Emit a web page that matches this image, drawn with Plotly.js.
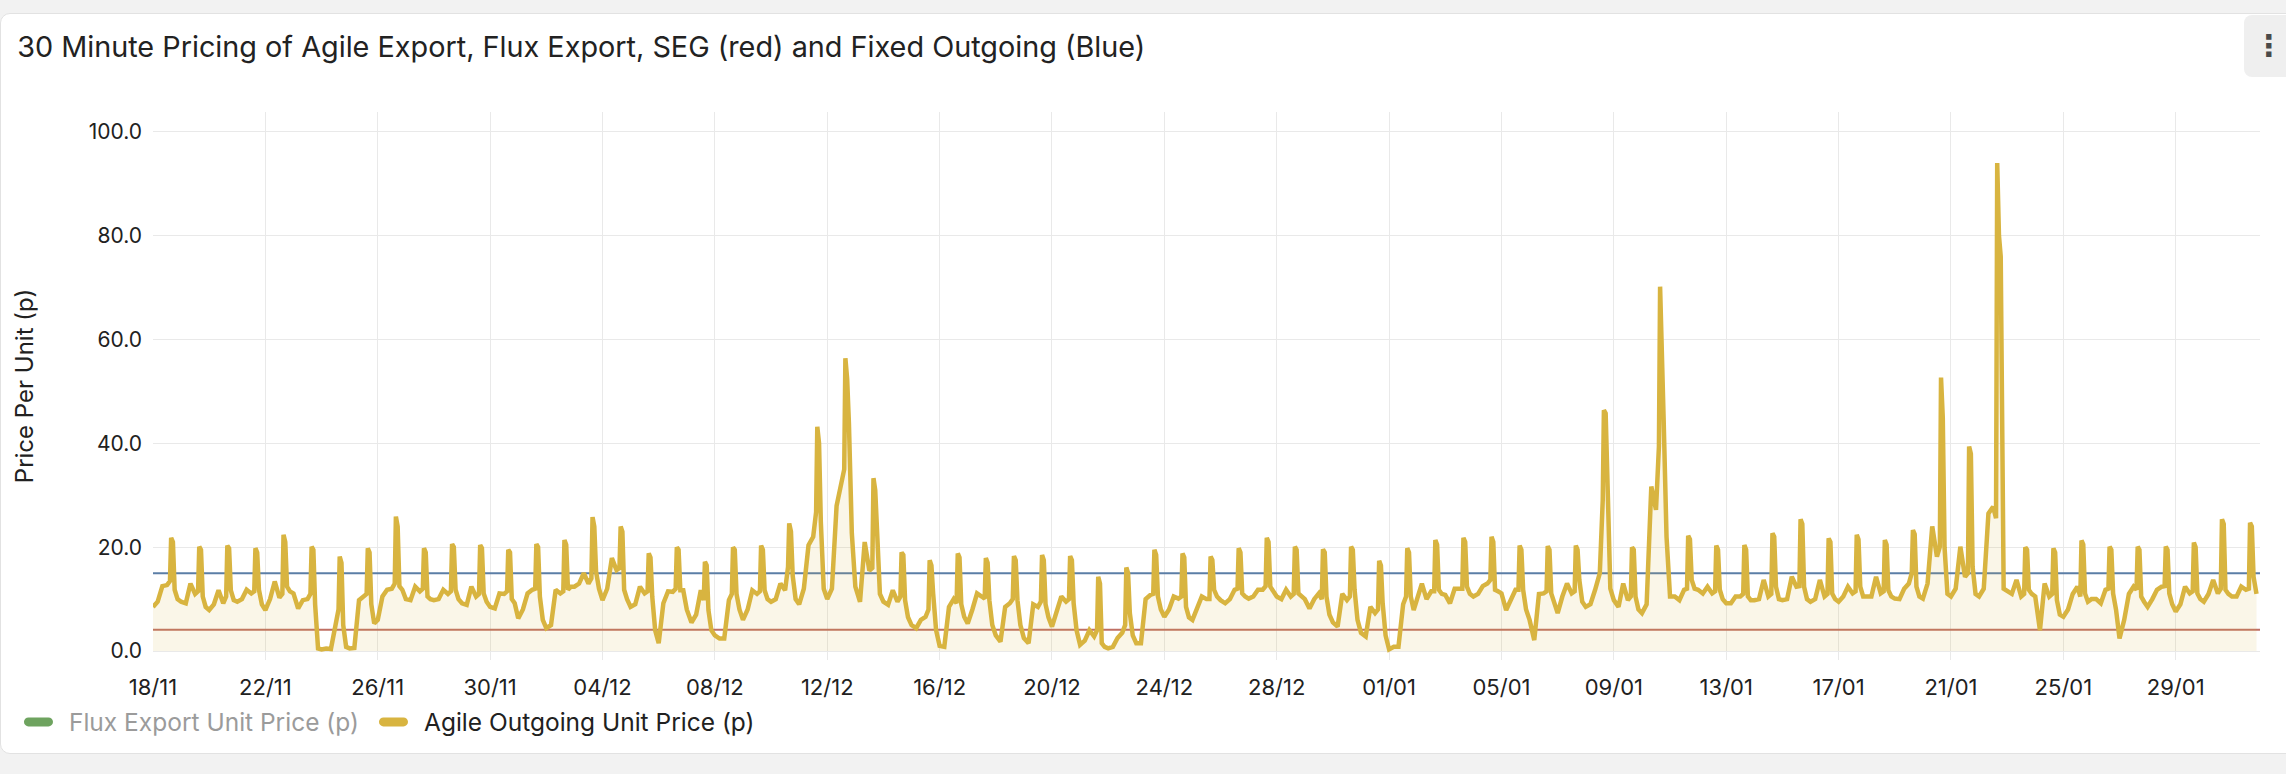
<!DOCTYPE html>
<html>
<head>
<meta charset="utf-8">
<script src="https://cdn.plot.ly/plotly-3.0.1.min.js"></script>
<style>
  html, body { margin: 0; padding: 0; background: #f2f2f2; width: 2286px; height: 774px; overflow: hidden; }
  #card { position: absolute; left: 0; top: 13px; width: 2300px; height: 741px; background: #fff;
          border: 1px solid #e2e2e2; border-radius: 10px; box-sizing: border-box; }
  #menu { position: absolute; left: 2244px; top: 15px; width: 60px; height: 62px; background: #efefef;
          border-radius: 8px; color: #4a4a4a; font: bold 30px "DejaVu Sans", sans-serif;
          line-height: 62px; text-indent: 10px; }
  #chart { position: absolute; left: 0; top: 0; width: 2286px; height: 774px; }
</style>
</head>
<body>
<div id="card"></div>
<div id="menu">⋮</div>
<div id="chart"></div>
<script>
// half-hourly Agile Outgoing prices, sampled at a few times of day (p/kWh)
// one entry per day, 18/11 .. 31/01
var startDay = '2024-11-18';
var slotHours = [0, 4, 8, 12, 14.5, 15.5, 17, 18.5, 21];

var at0000 = [8.5, 9.5, 7.9, 9.5, 7.9, 11.1, 0.3, 0.5, 6, 10,
  9.8, 9.2, 8.5, 6.3, 4.4, 12.4, 9.8, 8.5, 1.5, 8,
  3, 6, 9.5, 9, 10, 12.4, 9.5, 5, 1, 5.3,
  3, 2.5, 4.7, 1.2, 0.5, 1.5, 6.6, 6, 9.8, 10.1,
  10.5, 10, 5.5, 3.5, 0.3, 10, 10.8, 10.5, 11.1, 6,
  7.3, 8.5, 9.8, 7.3, 10.5, 11.8, 9.2, 9.8, 9.8, 9.5,
  9.5, 10.5, 10.1, 10.1, 10.5, 10.5, 11.5, 10.5, 6.6, 10,
  2.4, 8.5, 7.6, 9.5, 10.5];
var at0400 = [9.5, 9.2, 9, 10, 10, 8.2, 0.5, 0.6, 10.5, 9.8,
  10, 8.9, 8.2, 8, 5, 13, 12, 9, 9.2, 5.5,
  2.4, 8, 10, 12, 12, 9.5, 8.9, 4.4, 0.8, 8,
  1.8, 1.5, 8, 2, 0.8, 1.5, 8, 8, 9.2, 10.5,
  10, 8.2, 4.7, 2.8, 0.8, 13, 9.2, 11, 7.9, 2.1,
  10.5, 9, 8.5, 9, 10.5, 11.1, 9.2, 10, 10, 10,
  10.5, 10.5, 10, 13, 12, 12, 11, 4, 8, 10,
  6, 10, 9, 11, 10.5];
var at0800 = [12.5, 13, 11.7, 11.8, 13.4, 9.8, 0.4, 9.8, 11.8, 12.4,
  11.8, 12.4, 11.1, 11.1, 11.8, 15, 17.9, 12.4, 11.5, 7,
  2.4, 11.7, 13, 20.4, 28, 21, 11.7, 6, 8.5, 11.1,
  8.5, 9, 10.5, 4, 2.5, 10, 10.5, 10.5, 10, 11.8,
  11.8, 10, 11, 8.5, 0.8, 10, 12, 12.5, 10, 11,
  13, 11.8, 13, 31.7, 9.8, 12.4, 10.5, 13.7, 14.3, 13.7,
  12.4, 14.3, 12, 24, 20.1, 26.5, 13.7, 13, 11, 9.2,
  11, 11.8, 12.4, 13.7, 12.4];
var at1200 = [12.7, 11, 9.2, 11.1, 10.3, 10, 5.3, 10.5, 12, 11.5,
  11, 10.5, 11, 11.8, 11.1, 13, 15.6, 11.1, 11.4, 11.7,
  9.8, 11, 11.7, 22, 33, 15.5, 9.5, 6.6, 10, 10.5,
  9.2, 8.5, 9.5, 2.8, 3.5, 10.8, 10.1, 10, 11.8, 11.8,
  10.5, 11.1, 9.8, 7.3, 9, 11.5, 12, 13, 11.8, 11.1,
  11.1, 15, 9.8, 27.2, 11.8, 11.1, 10.5, 10.5, 12.4, 10.5,
  11.1, 11.1, 13, 18.2, 14.3, 27.8, 10.5, 10.5, 12.4, 11.8,
  12.4, 12.4, 11.1, 11.1, 11.8];
var at1430 = [13.5, 11.5, 10.5, 11.5, 11, 11, 8, 11, 13, 12,
  11.5, 11, 11.5, 12, 11.5, 14, 16, 11.5, 12, 9.8,
  11, 11.5, 16.2, 26.8, 35, 16, 10.5, 8, 9.2, 10.1,
  10, 9.5, 10, 4, 5, 11, 10.5, 10, 12, 12.5,
  11, 10, 10.5, 8, 10.5, 11.5, 12, 13.7, 11.8, 11.5,
  11.5, 29, 10.5, 39.4, 12, 11.5, 11, 11, 12.5, 11,
  11.5, 11.5, 15, 20.1, 15, 25.6, 11, 11, 10.5, 12,
  11.8, 12.5, 11.5, 12, 12];
var at1530 = [21.8, 20.1, 20.3, 19.8, 22.4, 20.1, 18.2, 19.8, 25.9, 19.8,
  20.6, 20.4, 19.5, 20.6, 21.4, 25.8, 24, 18.8, 20, 17.2,
  20, 20.3, 24.6, 43.2, 56.4, 33.3, 19, 17.5, 18.8, 17.9,
  18.3, 18.5, 18.3, 14.3, 16.1, 19.5, 18.8, 18.2, 19.8, 21.8,
  20.1, 19.6, 20.1, 17.4, 19.8, 21.4, 21.8, 22, 20.3, 20.2,
  20.3, 46.4, 20, 70.2, 22.2, 20.3, 20.4, 22.7, 25.4, 21.7,
  22.4, 21.4, 23.3, 52.7, 39.4, 94, 20, 19.8, 21.3, 20.1,
  20.1, 20.1, 20.9, 25.4, 24.7];
var at1700 = [21, 19.5, 19.8, 19, 21, 19.5, 17, 19, 24, 19,
  20, 19.8, 19, 20, 20.5, 24, 23, 18, 19.5, 16.5,
  19.5, 19.5, 23, 40, 52.5, 31, 18.5, 16.5, 18, 17,
  17.5, 17.5, 17.5, 13, 15, 18.5, 18, 17.5, 19, 21,
  19.5, 19, 19.5, 16.5, 19, 20.5, 21, 21, 19.5, 19.5,
  19.5, 45.8, 19.5, 60, 21.5, 19.5, 19.5, 22, 24.5, 21,
  21.5, 20.5, 22.5, 45, 38, 80, 19.5, 19, 20.5, 19.5,
  19.5, 19.5, 20, 24.5, 24];
var at1830 = [11.8, 10.5, 11.7, 11.8, 12.4, 9, 5, 9, 12.5, 10.5,
  11.8, 11.1, 10, 10.5, 11.8, 15.3, 11.8, 10.5, 11.7, 7.9,
  11, 11.7, 14.5, 25, 44, 22, 9.8, 11, 9, 9.8,
  9.8, 9, 9.2, 1.5, 7.3, 10.5, 8.5, 11.8, 11.1, 12.4,
  11.1, 10.5, 11.8, 9.2, 10.5, 11.8, 12.4, 11.8, 11.8, 11.1,
  13.7, 30, 10.5, 45, 13.7, 11.8, 10.5, 12.4, 12.4, 11.1,
  12.4, 11.7, 12.4, 20, 16.2, 76, 11.8, 9.8, 11.1, 11.1,
  10.5, 11.1, 11.1, 11.8, 14.3];
var at2100 = [10, 8.5, 9.8, 9, 11.5, 0.5, 0.8, 5.3, 11.8, 10,
  10, 9.5, 9.2, 6, 12.4, 12, 10, 4, 11.7, 4,
  8, 10, 10, 12, 22.7, 11, 6.5, 4, 6.6, 5,
  5, 6.5, 4, 0.8, 3, 8, 6.5, 10.5, 10.5, 11.5,
  10.5, 7, 6, 3, 7.9, 11, 11, 11.5, 8, 9,
  9.5, 12, 8, 22, 12, 10, 9.8, 10, 10, 10,
  10.5, 10.5, 10.5, 11, 11, 12, 11, 7, 9.5, 8,
  9.5, 9, 10, 11, 11];

var fixedOutgoing = 15.0;   // blue
var segRate = 4.1;          // red

var slots = [at0000, at0400, at0800, at1200, at1430, at1530, at1700, at1830, at2100];

// flatten the daily samples into one time series
var base = Date.parse(startDay + 'T00:00:00Z');
var times = [], prices = [];
for (var d = 0; d < at0000.length; d++) {
  for (var s = 0; s < slots.length; s++) {
    var t = new Date(base + (d * 24 + slotHours[s]) * 3600000);
    times.push(t.toISOString().slice(0, 16).replace('T', ' '));
    prices.push(slots[s][d]);
  }
}
var rangeStart = '2024-11-18 00:00';
var rangeEnd = '2025-02-01 00:00';

var agileColor = '#d8b440';
var fluxColor = '#6ea35f';
var font = 'Inter, "Noto Sans", sans-serif';

var data = [
  { x: [rangeStart, rangeEnd], y: [segRate, segRate], mode: 'lines', name: 'SEG',
    line: { color: '#bf6f63', width: 2 }, showlegend: false, hoverinfo: 'skip' },
  { x: [rangeStart, rangeEnd], y: [fixedOutgoing, fixedOutgoing], mode: 'lines', name: 'Fixed Outgoing',
    line: { color: '#5b7ea6', width: 2 }, showlegend: false, hoverinfo: 'skip' },
  { x: times, y: prices, mode: 'lines', fill: 'tozeroy', fillcolor: 'rgba(216,180,64,0.12)',
    line: { width: 0, color: agileColor }, showlegend: false, hoverinfo: 'skip' },
  // switched off in the original, so only its legend entry shows
  { x: [rangeStart, rangeEnd], y: [null, null], mode: 'lines', name: 'Flux Export Unit Price (p)',
    visible: 'legendonly', line: { color: fluxColor, width: 4 } },
  { x: times, y: prices, mode: 'lines', name: 'Agile Outgoing Unit Price (p)',
    line: { color: agileColor, width: 4.5 } }
];

var layout = {
  width: 2286, height: 774,
  margin: { l: 153, r: 26, t: 112, b: 114 },
  paper_bgcolor: 'rgba(0,0,0,0)', plot_bgcolor: 'rgba(0,0,0,0)',
  font: { family: font, size: 21, color: '#212121' },
  title: { text: '30 Minute Pricing of Agile Export, Flux Export, SEG (red) and Fixed Outgoing (Blue)',
    xref: 'container', yref: 'container', x: 0.0075, xanchor: 'left', y: 0.939, yanchor: 'middle',
    font: { family: font, size: 28.8, color: '#222222' } },
  xaxis: {
    type: 'date', range: [rangeStart, rangeEnd], tick0: rangeStart, dtick: 4 * 86400000,
    tickformat: '%d/%m', showgrid: true, gridcolor: '#e9e9e9', zeroline: false, showline: false,
    ticks: '', ticklabelstandoff: 12, tickfont: { size: 22 }
  },
  yaxis: {
    range: [-1.73, 103.85], dtick: 20, tick0: 0, tickformat: '.1f', showgrid: true, gridcolor: '#e9e9e9',
    zeroline: false, showline: false, ticks: '', ticklabelstandoff: 10, tickfont: { size: 21 },
    title: { text: 'Price Per Unit (p)', standoff: 48, font: { size: 24 } }
  },
  legend: { orientation: 'h', xref: 'container', yref: 'container', x: 0.0083, xanchor: 'left',
    y: 0.0672, yanchor: 'middle', itemwidth: 40, font: { size: 24.5 }, bgcolor: 'rgba(0,0,0,0)' },
  showlegend: true
};

Plotly.newPlot('chart', data, layout, { displayModeBar: false, staticPlot: true }).then(function (gd) {
  // pill-shaped legend markers
  gd.querySelectorAll('.legend .legendlines path').forEach(function (p) {
    p.setAttribute('d', 'M9.5,0h20');
    p.style.strokeWidth = '9px';
    p.style.strokeLinecap = 'round';
  });
  var sb = gd.querySelector('.legend .scrollbox');
  if (sb) sb.removeAttribute('clip-path');
  var items = gd.querySelectorAll('.legend .traces');
  if (items.length === 2) {
    // hidden series: grey label, marker keeps its colour
    items[0].style.opacity = 1;
    items[0].querySelector('.legendtext').style.fill = '#9b9b9b';
    // wider gap between the two entries
    var m0 = /translate\(([-\d.]+)[ ,]+([-\d.]+)\)/.exec(items[0].getAttribute('transform'));
    var m1 = /translate\(([-\d.]+)[ ,]+([-\d.]+)\)/.exec(items[1].getAttribute('transform'));
    if (m0 && m1) items[1].setAttribute('transform', 'translate(' + (parseFloat(m0[1]) + 355) + ',' + m1[2] + ')');
  }
});
</script>
</body>
</html>
